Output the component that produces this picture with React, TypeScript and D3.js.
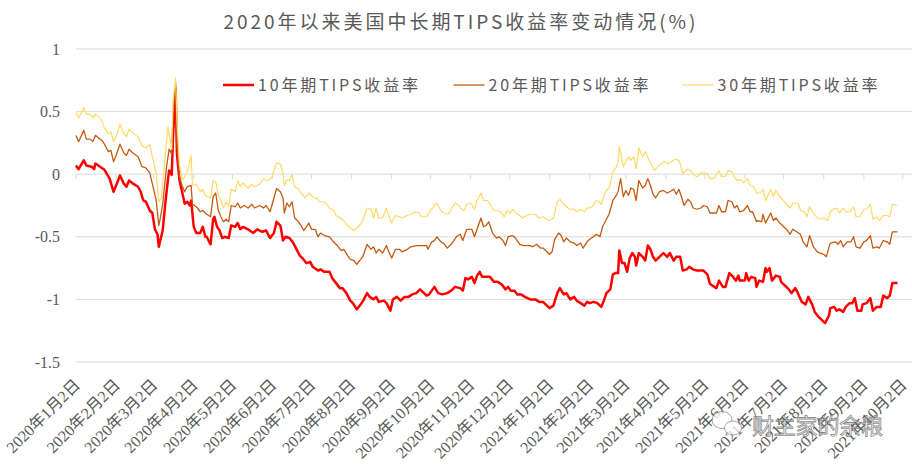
import React, { useEffect, useRef } from 'react';
import * as d3 from 'd3';

// days since 2020-01-02, yield (%)
const startDate = '2020-01-02';

const tips10: [number, number][] = [
  [0,0.07],[2,0.04],[6,0.11],[8,0.07],[12,0.06],[14,0.04],[15,0.085],[20,0.05],[22,0.035],[26,-0.035],[29,-0.14],[31,-0.09],[34,-0.01],[37,-0.075],[39,-0.1],[41,-0.05],[44,-0.075],[48,-0.1],[50,-0.14],[52,-0.21],[54,-0.22],[57,-0.29],[59,-0.31],[61,-0.44],[63,-0.48],[64,-0.58],[67,-0.45],[69,-0.235],[71,-0.05],[72,0.03],[74,-0.005],[75,0.3],[77,0.69],[78,0.165],[80,-0.05],[82,-0.14],[84,-0.235],[86,-0.22],[88,-0.25],[89,-0.21],[91,-0.42],[93,-0.47],[96,-0.47],[98,-0.42],[100,-0.5],[101,-0.5],[104,-0.56],[106,-0.36],[107,-0.34],[109,-0.42],[111,-0.45],[113,-0.51],[115,-0.5],[118,-0.51],[120,-0.41],[123,-0.42],[125,-0.39],[127,-0.44],[129,-0.42],[133,-0.44],[137,-0.47],[140,-0.44],[144,-0.46],[147,-0.45],[150,-0.51],[153,-0.47],[155,-0.38],[158,-0.41],[160,-0.53],[162,-0.5],[165,-0.51],[168,-0.55],[171,-0.61],[173,-0.65],[175,-0.67],[178,-0.71],[181,-0.7],[183,-0.74],[187,-0.77],[189,-0.76],[192,-0.78],[196,-0.78],[198,-0.83],[201,-0.87],[204,-0.91],[206,-0.91],[209,-0.95],[212,-1.01],[214,-1.03],[217,-1.08],[220,-1.04],[222,-1.01],[225,-0.95],[227,-0.98],[230,-1.0],[232,-0.98],[234,-1.02],[238,-1.01],[240,-1.03],[243,-1.09],[245,-1.0],[248,-0.98],[251,-1.01],[254,-0.98],[257,-0.98],[260,-0.96],[263,-0.95],[266,-0.92],[268,-0.94],[271,-0.97],[273,-0.96],[277,-0.9],[280,-0.95],[283,-0.96],[287,-0.95],[290,-0.93],[293,-0.9],[297,-0.91],[299,-0.93],[301,-0.83],[303,-0.84],[306,-0.82],[308,-0.87],[310,-0.81],[312,-0.78],[314,-0.82],[317,-0.82],[320,-0.82],[323,-0.86],[326,-0.86],[329,-0.88],[332,-0.92],[334,-0.9],[336,-0.93],[339,-0.93],[341,-0.96],[344,-0.96],[347,-0.98],[351,-1.0],[355,-1.0],[358,-1.02],[361,-1.02],[364,-1.05],[366,-1.07],[369,-1.05],[372,-0.95],[374,-0.91],[377,-0.96],[379,-0.95],[382,-1.0],[385,-0.98],[387,-1.01],[390,-1.03],[393,-1.05],[395,-1.02],[397,-1.03],[400,-1.02],[403,-1.03],[406,-1.06],[408,-1.01],[410,-0.95],[413,-0.92],[415,-0.8],[417,-0.79],[419,-0.79],[420,-0.61],[422,-0.71],[424,-0.71],[426,-0.78],[428,-0.67],[430,-0.63],[432,-0.66],[433,-0.73],[435,-0.63],[438,-0.66],[440,-0.69],[442,-0.57],[444,-0.6],[446,-0.66],[448,-0.69],[451,-0.66],[454,-0.63],[457,-0.66],[459,-0.63],[462,-0.69],[464,-0.66],[467,-0.66],[469,-0.77],[472,-0.76],[474,-0.74],[477,-0.76],[480,-0.77],[482,-0.77],[485,-0.77],[488,-0.8],[490,-0.875],[492,-0.89],[495,-0.91],[497,-0.85],[500,-0.9],[502,-0.9],[505,-0.79],[508,-0.82],[510,-0.85],[512,-0.81],[513,-0.85],[517,-0.85],[518,-0.79],[520,-0.85],[522,-0.82],[525,-0.83],[526,-0.9],[528,-0.85],[531,-0.86],[533,-0.75],[534,-0.78],[536,-0.75],[538,-0.85],[541,-0.81],[544,-0.82],[545,-0.86],[548,-0.89],[551,-0.92],[553,-0.95],[556,-0.91],[558,-0.95],[561,-1.02],[564,-1.04],[566,-0.98],[569,-1.04],[571,-1.1],[574,-1.14],[576,-1.16],[579,-1.19],[582,-1.13],[583,-1.07],[586,-1.06],[588,-1.09],[590,-1.08],[593,-1.1],[595,-1.06],[598,-1.03],[600,-1.03],[602,-0.99],[604,-1.09],[607,-1.09],[608,-1.04],[611,-1.03],[614,-0.99],[616,-1.09],[619,-1.06],[622,-1.06],[624,-0.97],[627,-0.99],[629,-0.97],[631,-0.87],[635,-0.87]
];

const tips20: [number, number][] = [
  [0,0.31],[2,0.26],[6,0.35],[8,0.28],[11,0.28],[13,0.26],[15,0.31],[20,0.27],[22,0.24],[25,0.18],[27,0.19],[29,0.1],[31,0.15],[34,0.24],[37,0.17],[39,0.15],[41,0.2],[44,0.17],[48,0.14],[51,0.06],[54,0.05],[57,0.01],[59,-0.075],[62,-0.21],[64,-0.41],[65,-0.36],[67,-0.24],[70,0.06],[72,0.2],[74,0.16],[75,0.49],[77,0.73],[78,0.25],[80,-0.02],[82,-0.09],[84,-0.14],[86,-0.1],[89,-0.09],[90,-0.24],[93,-0.26],[96,-0.3],[98,-0.29],[101,-0.32],[104,-0.34],[106,-0.18],[108,-0.15],[110,-0.29],[112,-0.34],[114,-0.38],[116,-0.36],[118,-0.38],[120,-0.25],[123,-0.26],[125,-0.23],[127,-0.27],[130,-0.25],[133,-0.27],[136,-0.24],[138,-0.27],[142,-0.25],[145,-0.27],[147,-0.25],[150,-0.3],[153,-0.19],[155,-0.115],[158,-0.14],[160,-0.19],[161,-0.31],[163,-0.23],[165,-0.26],[167,-0.22],[169,-0.35],[172,-0.38],[174,-0.41],[176,-0.45],[180,-0.39],[182,-0.44],[185,-0.44],[187,-0.5],[189,-0.47],[192,-0.49],[196,-0.5],[199,-0.54],[202,-0.57],[205,-0.61],[207,-0.6],[210,-0.65],[212,-0.68],[215,-0.69],[217,-0.72],[220,-0.68],[222,-0.65],[225,-0.56],[228,-0.6],[230,-0.58],[232,-0.63],[234,-0.6],[237,-0.63],[240,-0.57],[241,-0.6],[244,-0.67],[247,-0.6],[250,-0.6],[252,-0.62],[256,-0.6],[259,-0.58],[263,-0.57],[267,-0.57],[271,-0.57],[272,-0.6],[275,-0.54],[277,-0.53],[279,-0.5],[282,-0.54],[284,-0.55],[287,-0.59],[290,-0.56],[292,-0.53],[294,-0.5],[297,-0.48],[299,-0.53],[302,-0.44],[306,-0.44],[308,-0.5],[310,-0.44],[313,-0.35],[315,-0.42],[317,-0.41],[319,-0.38],[322,-0.47],[325,-0.51],[327,-0.5],[330,-0.53],[332,-0.57],[334,-0.5],[337,-0.49],[339,-0.5],[341,-0.53],[343,-0.56],[346,-0.57],[348,-0.57],[351,-0.57],[353,-0.58],[356,-0.56],[359,-0.59],[361,-0.59],[364,-0.62],[366,-0.64],[368,-0.62],[370,-0.52],[373,-0.47],[375,-0.49],[377,-0.54],[379,-0.51],[382,-0.54],[385,-0.55],[387,-0.57],[390,-0.55],[392,-0.59],[395,-0.54],[397,-0.52],[400,-0.5],[402,-0.48],[404,-0.49],[405,-0.5],[407,-0.42],[410,-0.36],[412,-0.32],[415,-0.21],[417,-0.18],[419,-0.14],[421,-0.035],[423,-0.18],[425,-0.13],[427,-0.17],[429,-0.11],[431,-0.12],[433,-0.21],[435,-0.05],[438,-0.11],[440,-0.09],[442,-0.035],[444,-0.09],[446,-0.16],[448,-0.19],[451,-0.14],[454,-0.13],[457,-0.15],[459,-0.14],[462,-0.12],[464,-0.16],[466,-0.12],[468,-0.18],[470,-0.25],[473,-0.2],[475,-0.22],[477,-0.27],[480,-0.28],[483,-0.27],[485,-0.25],[488,-0.26],[490,-0.31],[493,-0.31],[495,-0.31],[497,-0.25],[499,-0.3],[502,-0.3],[504,-0.21],[507,-0.22],[509,-0.27],[511,-0.25],[513,-0.3],[516,-0.29],[519,-0.25],[521,-0.3],[523,-0.3],[526,-0.38],[527,-0.37],[530,-0.38],[531,-0.32],[533,-0.39],[537,-0.31],[539,-0.37],[541,-0.35],[544,-0.39],[547,-0.42],[550,-0.45],[552,-0.48],[554,-0.44],[557,-0.46],[560,-0.48],[562,-0.54],[565,-0.58],[567,-0.49],[570,-0.58],[573,-0.62],[575,-0.63],[578,-0.64],[580,-0.66],[581,-0.62],[583,-0.55],[587,-0.54],[589,-0.56],[591,-0.53],[593,-0.58],[596,-0.54],[599,-0.54],[601,-0.5],[603,-0.58],[606,-0.59],[609,-0.54],[611,-0.53],[614,-0.49],[616,-0.59],[619,-0.58],[621,-0.59],[624,-0.53],[627,-0.54],[629,-0.56],[631,-0.46],[635,-0.46]
];

const tips30: [number, number][] = [
  [0,0.49],[2,0.45],[6,0.53],[8,0.48],[11,0.48],[13,0.45],[15,0.48],[19,0.44],[22,0.37],[25,0.32],[27,0.34],[29,0.26],[31,0.3],[34,0.4],[37,0.32],[39,0.3],[41,0.36],[44,0.33],[48,0.3],[51,0.23],[54,0.21],[57,0.24],[59,0.14],[62,0.005],[64,-0.22],[66,-0.19],[68,0.04],[71,0.38],[72,0.32],[74,0.2],[75,0.58],[77,0.77],[78,0.43],[80,0.07],[82,-0.05],[84,-0.02],[86,0.02],[89,0.15],[90,-0.09],[93,-0.08],[96,-0.14],[98,-0.12],[100,-0.17],[104,-0.19],[106,-0.05],[108,-0.06],[110,-0.17],[112,-0.21],[114,-0.27],[116,-0.22],[118,-0.26],[120,-0.12],[123,-0.14],[125,-0.05],[127,-0.1],[129,-0.07],[133,-0.11],[136,-0.08],[138,-0.1],[142,-0.08],[145,-0.04],[148,-0.05],[151,-0.03],[153,0.03],[155,0.09],[158,0.08],[160,0.01],[161,-0.09],[163,-0.045],[165,-0.05],[167,-0.005],[169,-0.1],[172,-0.12],[174,-0.15],[177,-0.19],[180,-0.15],[183,-0.18],[187,-0.2],[188,-0.22],[190,-0.22],[193,-0.23],[196,-0.27],[199,-0.29],[201,-0.33],[204,-0.35],[207,-0.37],[209,-0.4],[212,-0.43],[215,-0.45],[217,-0.43],[220,-0.4],[222,-0.36],[225,-0.27],[228,-0.28],[230,-0.35],[232,-0.27],[234,-0.35],[237,-0.35],[240,-0.27],[241,-0.31],[244,-0.39],[247,-0.33],[250,-0.34],[252,-0.35],[256,-0.33],[259,-0.32],[262,-0.3],[265,-0.31],[267,-0.34],[271,-0.34],[274,-0.29],[277,-0.25],[279,-0.23],[282,-0.29],[284,-0.31],[288,-0.32],[290,-0.28],[293,-0.23],[296,-0.25],[298,-0.28],[300,-0.29],[302,-0.24],[305,-0.23],[308,-0.28],[310,-0.21],[313,-0.15],[315,-0.21],[318,-0.21],[320,-0.24],[323,-0.29],[325,-0.29],[328,-0.3],[331,-0.34],[333,-0.29],[335,-0.31],[338,-0.28],[340,-0.31],[343,-0.33],[345,-0.35],[348,-0.33],[351,-0.32],[355,-0.32],[358,-0.35],[361,-0.34],[364,-0.36],[366,-0.37],[369,-0.35],[372,-0.22],[374,-0.2],[377,-0.24],[379,-0.26],[382,-0.28],[385,-0.28],[387,-0.3],[390,-0.28],[393,-0.3],[395,-0.27],[397,-0.27],[400,-0.25],[402,-0.21],[404,-0.22],[406,-0.24],[408,-0.17],[410,-0.13],[412,-0.11],[415,0.02],[417,0.045],[419,0.085],[420,0.22],[423,0.06],[425,0.1],[427,0.14],[429,0.11],[431,0.14],[433,0.045],[435,0.21],[438,0.14],[440,0.18],[443,0.11],[447,0.03],[449,0.05],[452,0.085],[455,0.1],[457,0.08],[460,0.1],[463,0.12],[466,0.11],[467,0.085],[469,0.005],[473,0.04],[475,0.03],[478,-0.01],[480,-0.02],[483,0.01],[485,0.01],[488,0.005],[490,-0.04],[493,-0.035],[497,0.03],[499,-0.02],[502,-0.015],[504,0.03],[507,0.02],[509,-0.025],[511,-0.05],[514,-0.045],[516,-0.07],[519,-0.035],[521,-0.09],[524,-0.1],[526,-0.15],[529,-0.15],[531,-0.12],[533,-0.21],[537,-0.12],[539,-0.18],[541,-0.13],[544,-0.18],[546,-0.2],[549,-0.24],[552,-0.27],[554,-0.23],[558,-0.23],[560,-0.29],[563,-0.3],[565,-0.34],[567,-0.26],[570,-0.31],[573,-0.35],[576,-0.36],[578,-0.35],[581,-0.37],[583,-0.3],[585,-0.28],[588,-0.27],[590,-0.31],[593,-0.27],[595,-0.3],[598,-0.3],[601,-0.26],[603,-0.34],[606,-0.34],[609,-0.28],[611,-0.28],[614,-0.24],[616,-0.36],[619,-0.34],[621,-0.37],[624,-0.33],[627,-0.33],[629,-0.34],[631,-0.24],[635,-0.25]
];

const seriesNames = ['10年期TIPS收益率', '20年期TIPS收益率', '30年期TIPS收益率'];
const seriesColors = ['#FF0000', '#C55A11', '#FFD966'];
const seriesWidths = [2.5, 1.3, 1.2];

const yTicks = [1, 0.5, 0, -0.5, -1, -1.5];
const xTickDates = [
  '2020-01-02', '2020-02-02', '2020-03-02', '2020-04-02', '2020-05-02', '2020-06-02',
  '2020-07-02', '2020-08-02', '2020-09-02', '2020-10-02', '2020-11-02', '2020-12-02',
  '2021-01-02', '2021-02-02', '2021-03-02', '2021-04-02', '2021-05-02', '2021-06-02',
  '2021-07-02', '2021-08-02', '2021-09-02', '2021-10-02'
];

const App: React.FC = () => {
  const svgRef = useRef<SVGSVGElement>(null);

  useEffect(() => {
    if (!svgRef.current) return;

    const width = 912;
    const height = 466;
    const left = 76;
    const right = 912;
    const parse = d3.timeParse('%Y-%m-%d');
    const base = parse(startDate)!;
    const fmt = d3.timeFormat('%Y年%-m月%-d日');

    const svg = d3.select(svgRef.current);
    svg.selectAll('*').remove();
    svg.attr('width', width).attr('height', height);

    svg.append('rect').attr('width', width).attr('height', height).attr('fill', '#fff');

    const x = d3.scaleTime()
      .domain([base, parse('2021-10-02')!])
      .range([left, 902.7]);

    const y = d3.scaleLinear()
      .domain([-1.5, 1])
      .range([362, 49]);

    // gridlines
    svg.append('g')
      .selectAll('line')
      .data(yTicks)
      .enter()
      .append('line')
      .attr('x1', left)
      .attr('x2', right)
      .attr('y1', d => y(d))
      .attr('y2', d => y(d))
      .attr('stroke', '#d9d9d9')
      .attr('stroke-width', 1);

    // y labels
    svg.append('g')
      .selectAll('text')
      .data(yTicks)
      .enter()
      .append('text')
      .attr('x', 60)
      .attr('y', d => y(d))
      .attr('dy', '0.35em')
      .attr('text-anchor', 'end')
      .attr('font-family', '"Liberation Serif", "Times New Roman", serif')
      .attr('font-size', 16)
      .attr('fill', '#595959')
      .text(d => String(d));

    // x axis tick marks on the zero line
    const tickDates = xTickDates.map(d => parse(d)!);
    svg.append('g')
      .selectAll('line')
      .data(tickDates)
      .enter()
      .append('line')
      .attr('x1', d => x(d))
      .attr('x2', d => x(d))
      .attr('y1', y(0))
      .attr('y2', y(0) + 5)
      .attr('stroke', '#d9d9d9');

    // x labels
    svg.append('g')
      .selectAll('text')
      .data(tickDates)
      .enter()
      .append('text')
      .attr('transform', d => `translate(${x(d) + 5},386) rotate(-45)`)
      .attr('text-anchor', 'end')
      .attr('font-family', '"Liberation Serif", "Noto Sans CJK SC", serif')
      .attr('font-size', 16)
      .attr('fill', '#595959')
      .text(d => fmt(d));

    // lines
    const line = d3.line<[number, number]>()
      .x(d => x(d3.timeDay.offset(base, d[0])))
      .y(d => y(d[1]));

    [tips10, tips20, tips30].forEach((s, i) => {
      svg.append('path')
        .datum(s)
        .attr('fill', 'none')
        .attr('stroke', seriesColors[i])
        .attr('stroke-width', seriesWidths[i])
        .attr('stroke-linejoin', 'round')
        .attr('d', line);
    });

    // title
    svg.append('text')
      .attr('x', 459.5)
      .attr('y', 29)
      .attr('text-anchor', 'middle')
      .attr('font-family', '"Noto Sans CJK SC", sans-serif')
      .attr('font-size', 19)
      .attr('fill', '#595959')
      .attr('textLength', 472)
      .attr('lengthAdjust', 'spacing')
      .text('2020年以来美国中长期TIPS收益率变动情况(%)');

    // legend
    const legendX = [223, 453.5, 682.5];
    const legend = svg.append('g');
    seriesNames.forEach((name, i) => {
      legend.append('line')
        .attr('x1', legendX[i])
        .attr('x2', legendX[i] + 31)
        .attr('y1', 85)
        .attr('y2', 85)
        .attr('stroke', seriesColors[i])
        .attr('stroke-width', seriesWidths[i]);
      legend.append('text')
        .attr('x', legendX[i] + 35)
        .attr('y', 91)
        .attr('font-family', '"Noto Sans CJK SC", sans-serif')
        .attr('font-size', 16)
        .attr('fill', '#595959')
        .attr('textLength', 160)
        .attr('lengthAdjust', 'spacing')
        .text(name);
    });

    // watermark
    const wm = svg.append('g').attr('opacity', 0.75);
    wm.append('ellipse').attr('cx', 722).attr('cy', 420).attr('rx', 10).attr('ry', 8.5)
      .attr('fill', '#fff').attr('stroke', '#888').attr('stroke-width', 1);
    wm.append('ellipse').attr('cx', 733).attr('cy', 428).attr('rx', 8.5).attr('ry', 7)
      .attr('fill', '#fff').attr('stroke', '#888').attr('stroke-width', 1);
    wm.append('text')
      .attr('x', 752)
      .attr('y', 434)
      .attr('font-family', '"Noto Sans CJK SC", sans-serif')
      .attr('font-size', 22)
      .attr('fill', '#fff')
      .attr('stroke', '#666')
      .attr('stroke-width', 0.8)
      .attr('textLength', 131)
      .attr('lengthAdjust', 'spacing')
      .text('财主家的余粮');
  }, []);

  return (
    <svg ref={svgRef} style={{ position: 'absolute', left: 0, top: 0, display: 'block' }}></svg>
  );
};

export default App;
